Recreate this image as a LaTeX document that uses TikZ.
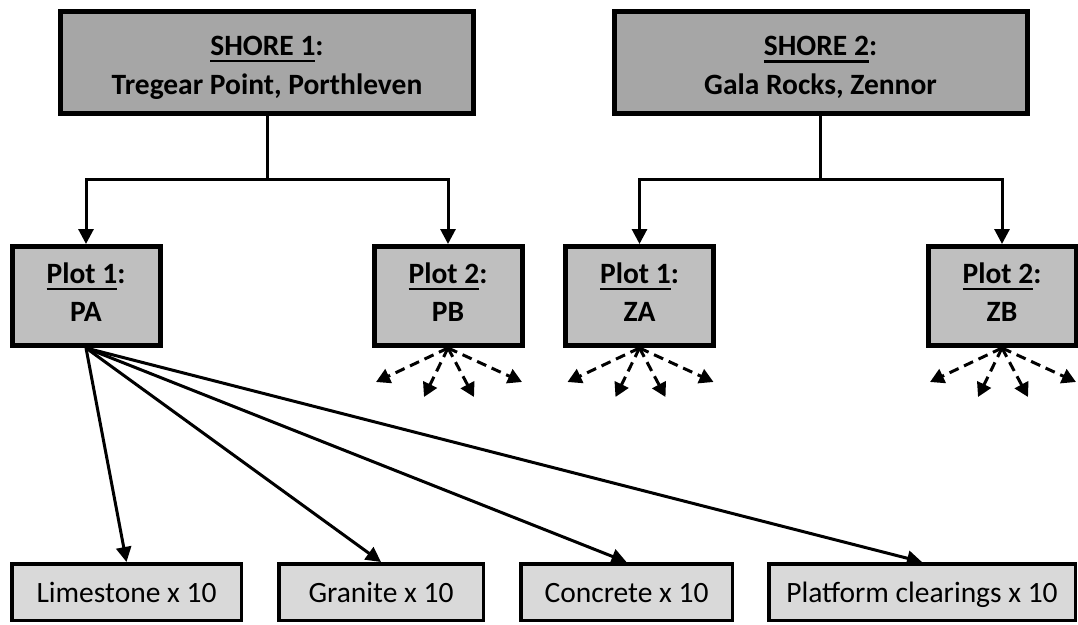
\documentclass[tikz,border=0pt]{standalone}
\usepackage{fontspec}
\setmainfont{Carlito}
\usetikzlibrary{arrows.meta}
\definecolor{shoregray}{HTML}{A6A6A6}
\definecolor{plotgray}{HTML}{BFBFBF}
\definecolor{leafgray}{HTML}{D9D9D9}
\newsavebox\ulbox
\newcommand\ulword[1]{\leavevmode\sbox\ulbox{#1}\rlap{\rule[-7pt]{\wd\ulbox}{2.4pt}}\usebox\ulbox}
% invisible struts that set the vertical balance of the two-line labels
\newcommand\topstrut{\rule{0pt}{29pt}}
\newcommand\botstrut{\rule[-8pt]{0pt}{8pt}}
\begin{document}
\begin{tikzpicture}[x=1pt,y=-1pt,
  shorebox/.style={draw, line width=5pt, fill=shoregray, minimum width=413pt,
    minimum height=102pt, inner sep=0pt, align=center,
    font=\fontsize{29.5}{39}\selectfont\bfseries},
  plotbox/.style={draw, line width=5pt, fill=plotgray, minimum width=148pt,
    minimum height=99pt, inner sep=0pt, align=center,
    font=\fontsize{29.5}{38}\selectfont\bfseries},
  leafbox/.style={draw, line width=3.5pt, fill=leafgray, minimum height=56.5pt,
    inner sep=0pt, text height=20pt, text depth=0pt,
    font=\fontsize{29.5}{38}\selectfont},
  tree/.style={line width=3pt},
  link/.style={line width=3pt, -{Triangle[length=15pt,width=15pt]}},
  spray/.style={line width=3pt, dash pattern=on 10pt off 6pt,
    -{Triangle[length=14pt,width=15pt]}}
]
\useasboundingbox (0,0) rectangle (1078,624);

% sites
\node[shorebox] (s1) at (267,62.5) {\topstrut\ulword{SHORE 1}:\\Tregear Point, Porthleven};
\node[shorebox] (s2) at (820.5,62.5) {\topstrut\ulword{SHORE 2}:\\Gala Rocks, Zennor};

% plots
\node[plotbox] (pa) at (86,296)   {\ulword{Plot 1}:\\PA\botstrut};
\node[plotbox] (pb) at (448,296)  {\ulword{Plot 2}:\\PB\botstrut};
\node[plotbox] (za) at (639.5,296){\ulword{Plot 1}:\\ZA\botstrut};
\node[plotbox] (zb) at (1002,296) {\ulword{Plot 2}:\\ZB\botstrut};

% treatments
\node[leafbox, minimum width=229.5pt] (lime)  at (126.5,592) {Limestone x 10};
\node[leafbox, minimum width=204.5pt] (gran)  at (381,592)   {Granite x 10};
\node[leafbox, minimum width=211.5pt] (conc)  at (626.5,592) {Concrete x 10};
\node[leafbox, minimum width=306.5pt] (plat)  at (922,592)   {Platform clearings x 10};

% site -> plot branches
\coordinate (j1) at (267,179);
\coordinate (j2) at (820.5,179);
\draw[tree] (s1.south) -- (j1);
\draw[tree] (s2.south) -- (j2);
\draw[link] (j1) -| (pa.north);
\draw[link] (j1) -| (pb.north);
\draw[link] (j2) -| (za.north);
\draw[link] (j2) -| (zb.north);

% plot -> treatments
\foreach \t in {lime,gran,conc,plat}
  \draw[link] (pa.south) -- (\t.north);

% repeated treatments on the other plots
\foreach \p in {pb,za,zb}{
  \foreach \dx/\dy [count=\i] in {-72/34,-24/49,26/49,74/34}{
    \path (\p.south) ++(\dx,\dy) coordinate (\p-end\i);
    \draw[spray] (\p.south) -- (\p-end\i);
  }
}
\end{tikzpicture}
\end{document}
